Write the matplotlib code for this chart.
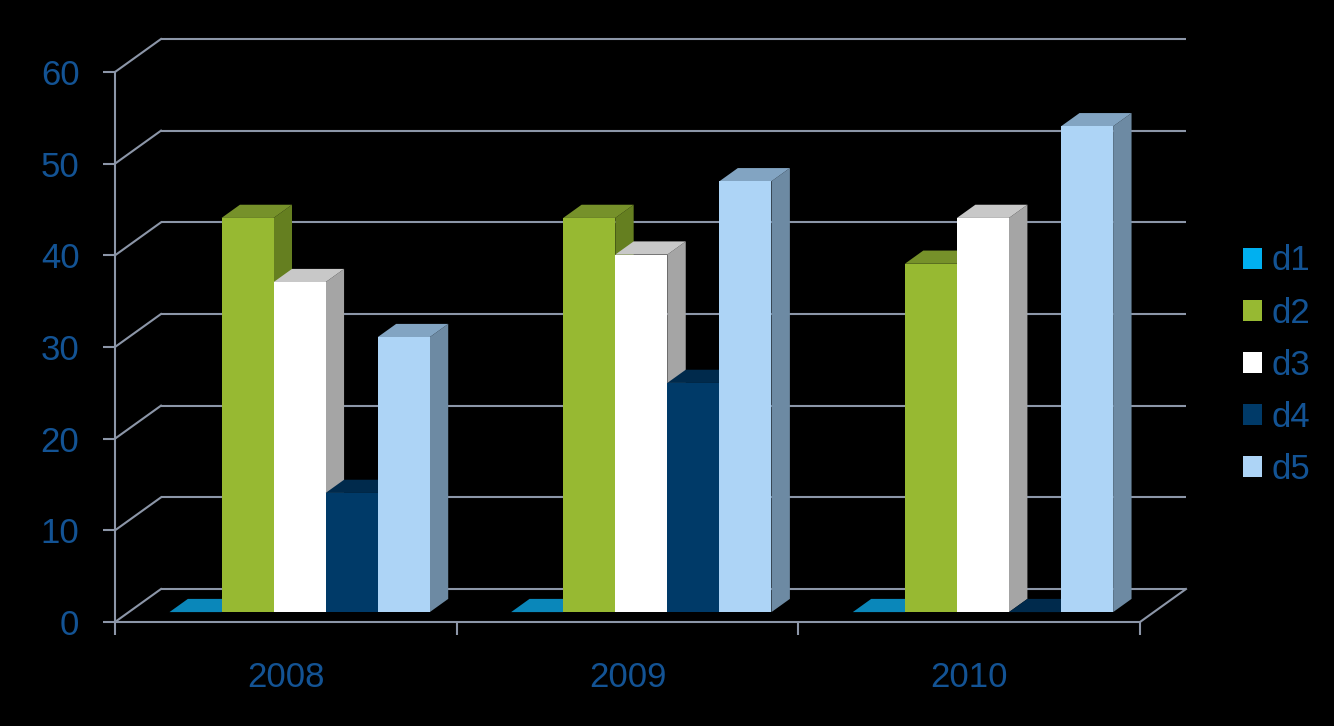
import matplotlib
matplotlib.use('Agg')
import matplotlib.pyplot as plt
from matplotlib.patches import Polygon, Patch

# ---- data ----
years = ['2008', '2009', '2010']
series = ['d1', 'd2', 'd3', 'd4', 'd5']
d1 = [0, 0, 0]
d2 = [43, 43, 38]
d3 = [36, 39, 43]
d4 = [13, 25, 0]
d5 = [30, 47, 53]
values = [d1, d2, d3, d4, d5]
y_ticks = [0, 10, 20, 30, 40, 50, 60]

# ---- styles ----
front_c = ['#00B0F0', '#97B932', '#FFFFFF', '#003A68', '#ADD4F6']
top_c = ['#0A87BA', '#76912A', '#C8C8C8', '#002A4C', '#82A4C2']
side_c = ['#06759F', '#657F20', '#A5A5A5', '#002646', '#6D8AA3']
grid_c = '#8C96A8'
text_c = '#135394'
plt.rcParams['font.family'] = ['Liberation Sans', 'DejaVu Sans']

W, H = 1334, 726
fig = plt.figure(figsize=(W / 100, H / 100), dpi=100, facecolor='black')
ax = fig.add_axes([0, 0, 1, 1])
ax.set_facecolor('black')

px_x, x0 = 341.67, 115.0
px_y, y0 = 9.1667, 622.0
ax.set_xlim(-x0 / px_x, (W - x0) / px_x)
ax.set_ylim(-(H - y0) / px_y, y0 / px_y)

DX = 46 / px_x
DY = 33 / px_y
zf, zb = 0.30, 0.70
ncat = len(years)
ymax = y_ticks[-1]

# walls / grid
lw = 1.5
for v in y_ticks:
    ax.plot([DX, ncat + DX], [v + DY, v + DY], color=grid_c, lw=lw, zorder=1, solid_capstyle='butt')
    ax.plot([0, DX], [v, v + DY], color=grid_c, lw=lw, zorder=1)
ax.plot([ncat, ncat + DX], [0, DY], color=grid_c, lw=lw, zorder=1)

# bars
bw = 0.1524
ddx = (zb - zf) * DX
ddy = (zb - zf) * DY
base = zf * DY
for i in range(ncat):
    for j in range(len(series)):
        v = values[j][i]
        xl = i + 0.5 + (j - len(series) / 2) * bw + zf * DX
        xr = xl + bw
        z = 3 + j * 3
        ax.add_patch(Polygon([(xr, base), (xr + ddx, base + ddy), (xr + ddx, base + v + ddy), (xr, base + v)],
                             closed=True, facecolor=side_c[j], edgecolor='none', zorder=z))
        ax.add_patch(Polygon([(xl, base + v), (xr, base + v), (xr + ddx, base + v + ddy), (xl + ddx, base + v + ddy)],
                             closed=True, facecolor=top_c[j], edgecolor='none', zorder=z + 1))
        ax.bar(xl, v, width=bw, bottom=base, align='edge', color=front_c[j], edgecolor='none',
               linewidth=0, zorder=z + 2)

# axes spines & ticks
for s in ['top', 'right']:
    ax.spines[s].set_visible(False)
ax.spines['left'].set_position(('data', 0))
ax.spines['left'].set_bounds(0, ymax)
ax.spines['bottom'].set_position(('data', 0))
ax.spines['bottom'].set_bounds(0, ncat)
for s in ['left', 'bottom']:
    ax.spines[s].set_color(grid_c)
    ax.spines[s].set_linewidth(lw)
    ax.spines[s].set_zorder(2)

ax.set_yticks(y_ticks)
ax.set_yticklabels([str(t) for t in y_ticks])
ax.set_xticks(list(range(ncat + 1)))
ax.set_xticklabels([''] * (ncat + 1))
ax.set_xticks([i + 0.5 for i in range(ncat)], minor=True)
ax.set_xticklabels(years, minor=True)
ax.tick_params(axis='y', which='major', direction='out', length=8.6, width=lw, color=grid_c,
               labelcolor=text_c, labelsize=25, pad=17)
ax.tick_params(axis='x', which='major', direction='out', length=9.4, width=lw, color=grid_c)
ax.tick_params(axis='x', which='minor', length=0, labelcolor=text_c, labelsize=25, pad=28)

handles = [Patch(facecolor=c, edgecolor='none', label=s) for c, s in zip(front_c, series)]
fig.legend(handles=handles, loc='center left', bbox_to_anchor=(1243 / W, 0.497), frameon=False,
           fontsize=25, handlelength=0.55, handleheight=0.55, handletextpad=0.28,
           labelspacing=0.55, borderpad=0, borderaxespad=0, labelcolor=text_c)

fig.savefig('out.png', dpi=100, facecolor='black')
